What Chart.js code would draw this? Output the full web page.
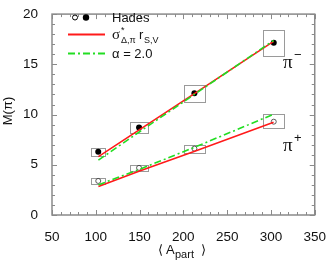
<!DOCTYPE html>
<html>
<head>
<meta charset="utf-8">
<script src="https://cdn.jsdelivr.net/npm/chart.js@4/dist/chart.umd.min.js"></script>
<style>
  html, body { margin: 0; padding: 0; background: #fff; }
  #wrap { width: 332px; height: 260px; }
</style>
</head>
<body>
<div id="wrap"><canvas id="c" width="332" height="260"></canvas></div>
<script>
// Hades points (filled = pi-, open = pi+)
const hadesA = [102.8, 149.4, 212.6, 303.2];
const negM = [6.29, 8.72, 12.12, 17.15];
const posM = [3.39, 4.69, 6.61, 9.29];
// systematic boxes (half sizes)
const sysA = [8, 10.5, 12, 12];
const sysNeg = [0.42, 0.56, 0.86, 1.27];
const sysPos = [0.29, 0.29, 0.4, 0.72];

// model curves
const curveA = [103, 150, 213, 303];
const redNeg = [5.81, 8.5, 12.1, 17.28];
const greenNeg = [5.46, 8.29, 12.03, 17.37];
const redPos = [2.84, 4.38, 6.34, 9.23];
const greenPos = [3.0, 4.55, 6.75, 10.03];

const xTicks = [50, 100, 150, 200, 250, 300, 350];
const yTicks = [0, 5, 10, 15, 20];

const FONT = '"Liberation Sans", Arial, sans-serif';
const SERIF = '"Liberation Serif", "DejaVu Serif", serif';
const RED = '#ff1a1a';
const GREEN = '#22dd22';

const pts = (xs, ys) => xs.map((x, i) => ({ x, y: ys[i] }));

const boxes = {
  id: 'boxes',
  beforeDatasetsDraw(chart) {
    const { ctx, scales: { x, y } } = chart;
    ctx.save();
    ctx.strokeStyle = '#9a9a9a';
    ctx.lineWidth = 1;
    [[negM, sysNeg], [posM, sysPos]].forEach(([ms, es]) => {
      hadesA.forEach((a, i) => {
        const x0 = x.getPixelForValue(a - sysA[i]);
        const x1 = x.getPixelForValue(a + sysA[i]);
        const y0 = y.getPixelForValue(ms[i] + es[i]);
        const y1 = y.getPixelForValue(ms[i] - es[i]);
        ctx.strokeRect(Math.round(x0) + 0.5, Math.round(y0) + 0.5, Math.round(x1 - x0), Math.round(y1 - y0));
      });
    });
    ctx.restore();
  }
};

const frame = {
  id: 'frame',
  afterDraw(chart) {
    const { ctx, chartArea: ca, scales: { x, y } } = chart;
    ctx.save();
    ctx.strokeStyle = '#8a8a8a';
    ctx.lineWidth = 1.5;
    ctx.strokeRect(ca.left, ca.top, ca.right - ca.left, ca.bottom - ca.top);
    ctx.lineWidth = 1;
    ctx.beginPath();
    for (let v = 50; v <= 350; v += 10) {
      const px = Math.round(x.getPixelForValue(v)) + 0.5;
      const len = v % 50 === 0 ? 5 : 3;
      ctx.moveTo(px, ca.bottom); ctx.lineTo(px, ca.bottom - len);
      ctx.moveTo(px, ca.top); ctx.lineTo(px, ca.top + len);
    }
    for (let v = 0; v <= 20; v += 1) {
      const py = Math.round(y.getPixelForValue(v)) + 0.5;
      const len = v % 5 === 0 ? 5 : 3;
      ctx.moveTo(ca.left, py); ctx.lineTo(ca.left + len, py);
      ctx.moveTo(ca.right, py); ctx.lineTo(ca.right - len, py);
    }
    ctx.stroke();

    // axis titles
    ctx.fillStyle = '#111';
    ctx.textBaseline = 'alphabetic';
    ctx.save();
    ctx.translate(12, 111);
    ctx.rotate(-Math.PI / 2);
    ctx.textAlign = 'center';
    ctx.font = '13px ' + FONT;
    ctx.fillText('M(π)', 0, 0);
    ctx.restore();

    ctx.textAlign = 'left';
    ctx.font = '13px ' + FONT;
    ctx.fillText('⟨', 158, 254);
    ctx.fillText('A', 166, 254);
    ctx.font = '11px ' + FONT;
    ctx.fillText('part', 175, 258);
    ctx.font = '13px ' + FONT;
    ctx.fillText('⟩', 201, 254);

    // pi labels
    ctx.font = '19px ' + SERIF;
    ctx.fillText('π', 283, 68);
    ctx.fillText('π', 283, 151);
    ctx.font = '13px ' + FONT;
    ctx.fillText('−', 294, 59);
    ctx.fillText('+', 294, 142);

    // legend
    const lx0 = 68, lx1 = 105, tx = 112;
    ctx.strokeStyle = '#000';
    ctx.lineWidth = 1;
    ctx.beginPath();
    ctx.arc(75, 17.5, 2.5, 0, Math.PI * 2);
    ctx.stroke();
    ctx.fillStyle = '#000';
    ctx.beginPath();
    ctx.arc(86, 17.5, 3.2, 0, Math.PI * 2);
    ctx.fill();
    ctx.fillStyle = '#111';
    ctx.font = '13px ' + FONT;
    ctx.fillText('Hades', tx, 22);

    ctx.strokeStyle = RED;
    ctx.lineWidth = 2;
    ctx.beginPath();
    ctx.moveTo(lx0, 34.5); ctx.lineTo(lx1, 34.5);
    ctx.stroke();
    ctx.font = '15px ' + SERIF;
    ctx.fillText('σ', tx, 39);
    ctx.font = '9px ' + FONT;
    ctx.fillText('*', tx + 9, 33);
    ctx.fillText('Δ,π', tx + 9, 43);
    ctx.font = '13px ' + FONT;
    ctx.fillText('r', tx + 27, 39);
    ctx.font = '9px ' + FONT;
    ctx.fillText('S,V', tx + 32, 43);

    ctx.strokeStyle = GREEN;
    ctx.lineWidth = 2;
    ctx.setLineDash([7, 3, 2, 3]);
    ctx.beginPath();
    ctx.moveTo(lx0, 53.5); ctx.lineTo(lx1, 53.5);
    ctx.stroke();
    ctx.setLineDash([]);
    ctx.font = '13px ' + FONT;
    ctx.fillText('α = 2.0', tx, 58);
    ctx.restore();
  }
};

const lineDs = (data, color, dash) => ({
  type: 'line',
  data,
  borderColor: color,
  borderWidth: 1.6,
  borderDash: dash,
  pointRadius: 0,
  fill: false,
  tension: 0
});

new Chart(document.getElementById('c'), {
  type: 'scatter',
  data: {
    datasets: [
      lineDs(pts(curveA, greenNeg), GREEN, [7, 3, 2, 3]),
      lineDs(pts(curveA, redNeg), RED, []),
      lineDs(pts(curveA, greenPos), GREEN, [7, 3, 2, 3]),
      lineDs(pts(curveA, redPos), RED, []),
      {
        data: pts(hadesA, negM),
        pointRadius: 3,
        backgroundColor: '#000',
        borderColor: '#000',
        borderWidth: 0
      },
      {
        data: pts(hadesA, posM),
        pointRadius: 2.5,
        backgroundColor: 'rgba(0,0,0,0)',
        borderColor: '#333',
        borderWidth: 0.8
      }
    ]
  },
  options: {
    responsive: false,
    animation: false,
    events: [],
    layout: { padding: { top: 6, right: 13, left: 0, bottom: 0 } },
    plugins: { legend: { display: false }, tooltip: { enabled: false } },
    scales: {
      x: {
        type: 'linear',
        min: 50, max: 350,
        afterFit: s => { s.height = 45; },
        afterBuildTicks: s => { s.ticks = xTicks.map(v => ({ value: v })); },
        grid: { display: false },
        border: { display: false },
        ticks: { color: '#111', font: { family: FONT, size: 13.5 }, padding: 6, maxRotation: 0 }
      },
      y: {
        type: 'linear',
        min: 0, max: 20,
        afterFit: s => { s.width = 52; },
        afterBuildTicks: s => { s.ticks = yTicks.map(v => ({ value: v })); },
        grid: { display: false },
        border: { display: false },
        ticks: { color: '#111', font: { family: FONT, size: 13.5 }, padding: 6 }
      }
    }
  },
  plugins: [boxes, frame]
});
</script>
</body>
</html>
